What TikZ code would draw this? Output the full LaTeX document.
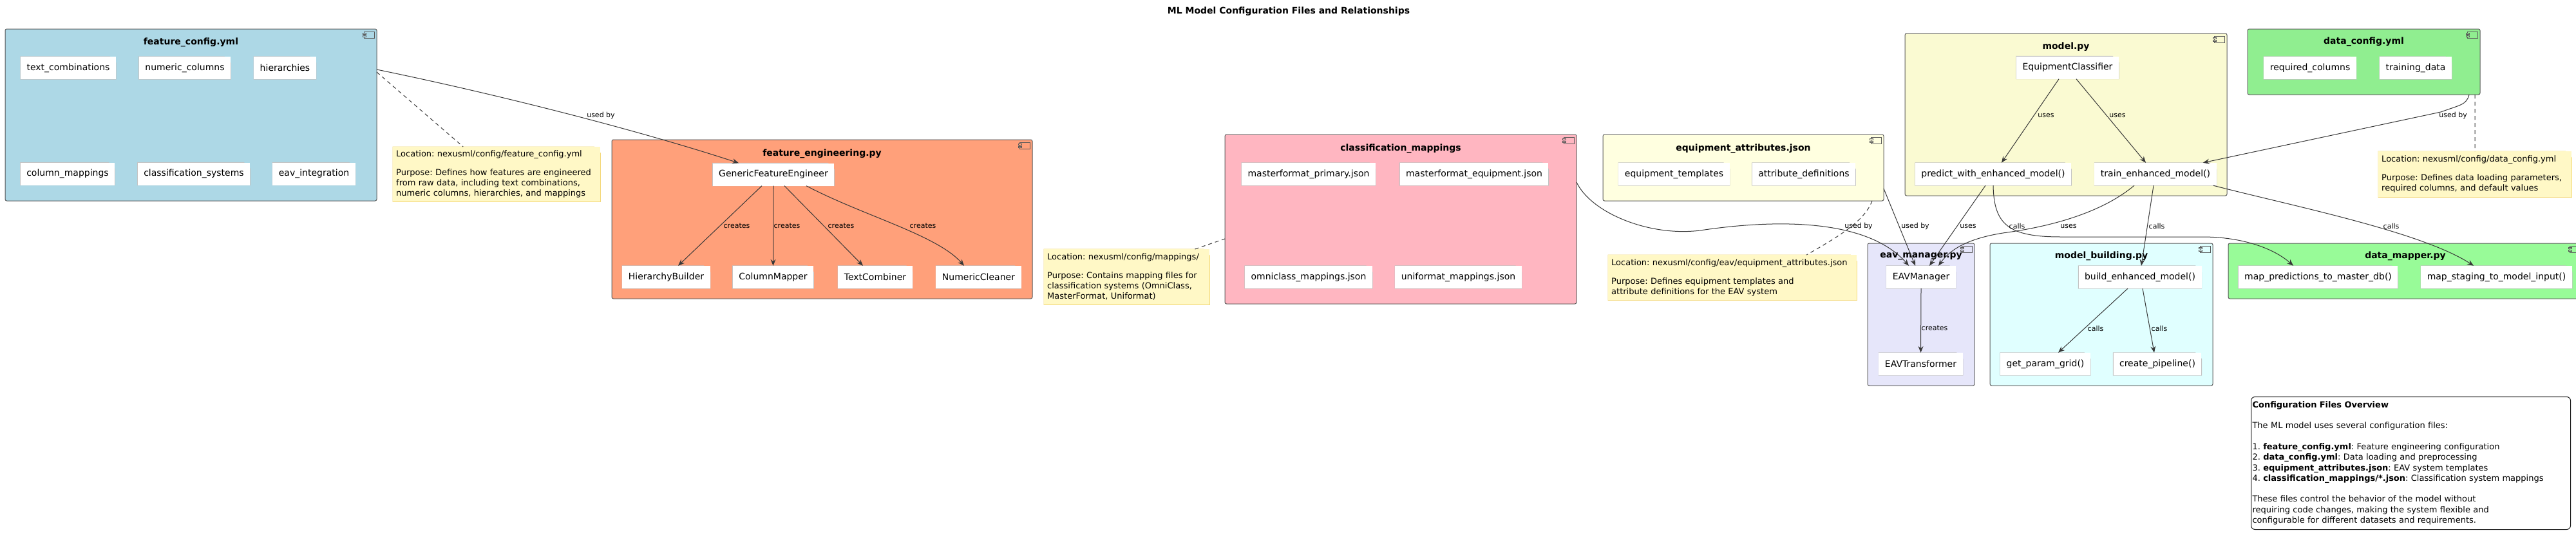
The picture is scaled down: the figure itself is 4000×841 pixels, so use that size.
\documentclass[tikz,border=0pt]{standalone}
\usepackage{fontspec}
\setmainfont{DejaVu Sans}
\usetikzlibrary{calc,arrows.meta}
\frenchspacing

\definecolor{fcblue}{HTML}{ADD8E6}
\definecolor{fesalmon}{HTML}{FFA07A}
\definecolor{cmpink}{HTML}{FFB6C1}
\definecolor{eayellow}{HTML}{FFFFE0}
\definecolor{mpgold}{HTML}{FAFAD2}
\definecolor{dcgreen}{HTML}{90EE90}
\definecolor{emlav}{HTML}{E6E6FA}
\definecolor{mbcyan}{HTML}{E0FFFF}
\definecolor{dmgreen}{HTML}{98FB98}
\definecolor{noteyel}{HTML}{FFF8C6}
\definecolor{noteline}{HTML}{F3D87A}
\definecolor{pkgline}{HTML}{5A5A5A}
\definecolor{cardline}{HTML}{C4C4C4}
\definecolor{arrowc}{HTML}{383838}

\newcommand{\compicon}[2]{%
  \draw[pkgline, line width=0.8pt, fill=#2] ($(#1.north east)+(-20,4)$) rectangle ($(#1.north east)+(-4,14)$);
  \draw[pkgline, line width=0.8pt, fill=#2] ($(#1.north east)+(-22,6)$) rectangle ($(#1.north east)+(-17,8.5)$);
  \draw[pkgline, line width=0.8pt, fill=#2] ($(#1.north east)+(-22,10)$) rectangle ($(#1.north east)+(-17,12.5)$);
}

\tikzset{
  dogear/.style 2 args={append after command={\pgfextra{%
    \edef\dgn{\tikzlastnode}%
    \fill[#1] ([xshift=-10pt]\dgn.north east) -- (\dgn.north east) -- ([yshift=-10pt]\dgn.north east) -- cycle;
    \draw[#2, line width=1pt] (\dgn.north west) -- ([xshift=-10pt]\dgn.north east) -- ([yshift=-10pt]\dgn.north east) -- (\dgn.south east) -- (\dgn.south west) -- cycle;
    \draw[#2, line width=1pt] ([xshift=-10pt]\dgn.north east) -- ([xshift=-10pt,yshift=-10pt]\dgn.north east) -- ([yshift=-10pt]\dgn.north east);
  }}},
  pkg/.style={draw=pkgline, line width=1pt, rounded corners=2.5pt, inner sep=0pt, outer sep=0pt},
  pkgtitle/.style={font=\fontsize{14}{16}\selectfont\bfseries, inner sep=0pt},
  filebox/.style={fill=white, inner xsep=9.5pt, inner ysep=0pt, minimum height=35pt, font=\fontsize{14}{16}\selectfont, dogear={#1}{cardline}},
  notebox/.style={fill=noteyel, anchor=north west, align=left, inner xsep=5pt, inner ysep=0pt, font=\fontsize{13}{16}\selectfont, dogear={white}{noteline}},
  conn/.style={draw=arrowc, line width=1pt, -{Stealth[length=10pt,width=8pt,inset=3.5pt]}},
  notelink/.style={draw=arrowc, line width=1pt, dash pattern=on 6pt off 5pt},
  lbl/.style={font=\fontsize{11}{13}\selectfont, inner sep=0pt}
}

\begin{document}
\begin{tikzpicture}[x=1pt, y=-1pt]
		%%%%% START %%%%%
		
		\useasboundingbox (0,0) rectangle (4000,841);
		\fill[white] (0,0) rectangle (4000,841);
		
		\node[font=\fontsize{14}{16}\selectfont\bfseries] (title) at (2001,18) {ML Model Configuration Files and Relationships};
		
		\node[pkg, fill=fcblue, minimum width=577pt, minimum height=267pt] (fc) at (296.5,178.5) {};
		\node[pkgtitle] (fct) at ([yshift=-21pt]fc.north) {feature\_config.yml};
		\compicon{fc}{fcblue}
		
		\node[pkg, fill=fesalmon, minimum width=653pt, minimum height=247pt] (fe) at (1276.5,340.5) {};
		\node[pkgtitle] (fet) at ([yshift=-22pt]fe.north) {feature\_engineering.py};
		\compicon{fe}{fesalmon}
		
		\node[pkg, fill=cmpink, minimum width=546pt, minimum height=263pt] (cm) at (2175,340.5) {};
		\node[pkgtitle] (cmt) at ([yshift=-22pt]cm.north) {classification\_mappings};
		\compicon{cm}{cmpink}
		
		\node[pkg, fill=eayellow, minimum width=436pt, minimum height=103pt] (ea) at (2707,260.5) {};
		\node[pkgtitle] (eat) at ([yshift=-22pt]ea.north) {equipment\_attributes.json};
		\compicon{ea}{eayellow}
		
		\node[pkg, fill=mpgold, minimum width=500pt, minimum height=252pt] (mp) at (3208,178) {};
		\node[pkgtitle] (mpt) at ([yshift=-21pt]mp.north) {model.py};
		\compicon{mp}{mpgold}
		
		\node[pkg, fill=dcgreen, minimum width=361pt, minimum height=102pt] (dc) at (3670.5,96) {};
		\node[pkgtitle] (dct) at ([yshift=-20pt]dc.north) {data\_config.yml};
		\compicon{dc}{dcgreen}
		
		\node[pkg, fill=emlav, minimum width=166pt, minimum height=221pt] (em) at (2983,488.5) {};
		\node[pkgtitle] (emt) at ([yshift=-20pt]em.north) {eav\_manager.py};
		\compicon{em}{emlav}
		
		\node[pkg, fill=mbcyan, minimum width=346pt, minimum height=221pt] (mb) at (3263,488.5) {};
		\node[pkgtitle] (mbt) at ([yshift=-20pt]mb.north) {model\_building.py};
		\compicon{mb}{mbcyan}
		
		\node[pkg, fill=dmgreen, minimum width=550pt, minimum height=86pt] (dm) at (3735,421) {};
		\node[pkgtitle] (dmt) at ([yshift=-20pt]dm.north) {data\_mapper.py};
		\compicon{dm}{dmgreen}
		
		\node[filebox=fcblue] (txtcomb) at (106,105.5) {text\_combinations};
		\node[filebox=fcblue] (numcols) at (287,105.5) {numeric\_columns};
		\node[filebox=fcblue] (hier) at (442.5,105.5) {hierarchies};
		\node[filebox=fcblue] (colmaps) at (105,270) {column\_mappings};
		\node[filebox=fcblue] (clsys) at (301,270) {classification\_systems};
		\node[filebox=fcblue] (eavint) at (487.5,270) {eav\_integration};
		
		\node[filebox=fesalmon] (gfe) at (1201,271) {GenericFeatureEngineer};
		\node[filebox=fesalmon] (hb) at (1034.5,430.5) {HierarchyBuilder};
		\node[filebox=fesalmon] (colmap) at (1200.5,430.5) {ColumnMapper};
		\node[filebox=fesalmon] (textcomb) at (1359,430.5) {TextCombiner};
		\node[filebox=fesalmon] (numcl) at (1519.5,430.5) {NumericCleaner};
		
		\node[filebox=cmpink] (mfp) at (2032,270.5) {masterformat\_primary.json};
		\node[filebox=cmpink] (mfe) at (2289,270.5) {masterformat\_equipment.json};
		\node[filebox=cmpink] (ocm) at (2032,430.5) {omniclass\_mappings.json};
		\node[filebox=cmpink] (ufm) at (2264.5,430.5) {uniformat\_mappings.json};
		
		\node[filebox=eayellow] (etpl) at (2599.5,270.5) {equipment\_templates};
		\node[filebox=eayellow] (adef) at (2801,270.5) {attribute\_definitions};
		
		\node[filebox=mpgold] (ec) at (3210.5,105) {EquipmentClassifier};
		\node[filebox=mpgold] (pwem) at (3095,270.5) {predict\_with\_enhanced\_model()};
		\node[filebox=mpgold] (tem) at (3347,270.5) {train\_enhanced\_model()};
		
		\node[filebox=dcgreen] (rcols) at (3587,105.5) {required\_columns};
		\node[filebox=dcgreen] (tdata) at (3751,105.5) {training\_data};
		
		\node[filebox=emlav] (eavm) at (2983,430.5) {EAVManager};
		\node[filebox=emlav] (eavt) at (2982.5,565.5) {EAVTransformer};
		
		\node[filebox=mbcyan] (bem) at (3323,430.5) {build\_enhanced\_model()};
		\node[filebox=mbcyan] (gpg) at (3176,565.5) {get\_param\_grid()};
		\node[filebox=mbcyan] (cpl) at (3350,565.5) {create\_pipeline()};
		
		\node[filebox=dmgreen] (mpdb) at (3599.5,430.5) {map\_predictions\_to\_master\_db()};
		\node[filebox=dmgreen] (mstm) at (3876.5,430.5) {map\_staging\_to\_model\_input()};
		
		\node[notebox, text width=312pt, minimum height=85pt] (n1) at (610,228) {Location: nexusml/config/feature\_config.yml\\[13pt]Purpose: Defines how features are engineered\\from raw data, including text combinations,\\numeric columns, hierarchies, and mappings};
		\node[notebox, text width=247pt, minimum height=86pt] (n2) at (1621,387) {Location: nexusml/config/mappings/\\[13pt]Purpose: Contains mapping files for\\classification systems (OmniClass,\\MasterFormat, Uniformat)};
		\node[notebox, text width=376pt, minimum height=70pt] (n3) at (2497,396) {Location: nexusml/config/eav/equipment\_attributes.json\\[13pt]Purpose: Defines equipment templates and\\attribute definitions for the EAV system};
		\node[notebox, text width=290pt, minimum height=71pt] (n4) at (3693,235) {Location: nexusml/config/data\_config.yml\\[13pt]Purpose: Defines data loading parameters,\\required columns, and default values};
		
		\node[draw=black!90, line width=1pt, fill=white, rounded corners=6pt, anchor=north west, align=left, text width=492pt, inner xsep=2pt, inner ysep=0pt, minimum height=206pt, font=\fontsize{13}{16.4}\selectfont] (overview) at (3495,616) {\textbf{Configuration Files Overview}\\[16pt]The ML model uses several configuration files:\\[16pt]1. \textbf{feature\_config.yml}: Feature engineering configuration\\2. \textbf{data\_config.yml}: Data loading and preprocessing\\3. \textbf{equipment\_attributes.json}: EAV system templates\\4. \textbf{classification\_mappings/*.json}: Classification system mappings\\[16pt]These files control the behavior of the model without\\requiring code changes, making the system flexible and\\configurable for different datasets and requirements.};
		
		\draw[notelink] ([yshift=66.5pt]fc.east) -- ([xshift=-52pt]n1.north);
		\draw[notelink] ([xshift=-23pt]n2.north east) -- ([yshift=-30.5pt]cm.west);
		\draw[notelink] ([xshift=-18pt]ea.south east) .. controls (2895,345) and (2850,370) .. ([xshift=115pt]n3.north);
		\draw[notelink] ([xshift=-8pt]dc.south east) -- (n4.north);
		
		\draw[conn] ([yshift=70.5pt]fc.east) .. controls (780,148) and (1000,205) .. ([xshift=-54pt]gfe.north);
		\draw[conn] ([xshift=-18pt]gfe.south) -- ([xshift=18.5pt]hb.north);
		\draw[conn] (gfe.south) -- (colmap.north);
		\draw[conn] ([xshift=17pt]gfe.south) -- ([xshift=-19pt]textcomb.north);
		\draw[conn] ([xshift=51pt]gfe.south) .. controls (1340,335) and (1455,365) .. ([xshift=-22.5pt]numcl.north);
		
		\draw[conn] ([yshift=57.5pt]cm.east) .. controls (2470,330) and (2560,368) .. (2640,358) .. controls (2760,340) and (2900,340) .. ([xshift=-19pt]eavm.north);
		\draw[conn] ([yshift=-32.5pt]ea.east) -- ([xshift=-9pt]eavm.north);
		\draw[conn] ([xshift=-12pt]pwem.south) -- ([xshift=13pt]eavm.north);
		\draw[conn] (pwem.south) .. controls (3096,350) and (3120,368) .. (3200,368) -- (3420,368) .. controls (3480,368) and (3530,385) .. ([xshift=-38.5pt]mpdb.north);
		\draw[conn] ([xshift=-33pt]tem.south) .. controls (3270,325) and (3200,350) .. (3110,362) .. controls (3060,370) and (3030,385) .. ([xshift=27pt]eavm.north);
		\draw[conn] ([xshift=-3pt]tem.south) -- ([xshift=2pt]bem.north);
		\draw[conn] ([xshift=-5pt]tem.south east) .. controls (3560,320) and (3760,360) .. ([xshift=-35.5pt]mstm.north);
		
		\draw[conn] ([xshift=-13.5pt]ec.south) -- ([xshift=13pt]pwem.north);
		\draw[conn] ([xshift=13.5pt]ec.south) -- ([xshift=-15pt]tem.north);
		\draw[conn] ([xshift=-17pt]dc.south east) .. controls (3830,163) and (3820,163) .. (3790,174) -- ([xshift=-21pt]tem.north east);
		
		\draw[conn] (eavm.south) -- (eavt.north);
		\draw[conn] ([xshift=-19pt]bem.south) -- ([xshift=20pt]gpg.north);
		\draw[conn] ([xshift=4pt]bem.south) -- ([xshift=-5pt]cpl.north);
		
		\node[lbl] (l1) at (933,179) {used by};
		\node[lbl] (l2) at (1144,351) {creates};
		\node[lbl] (l3) at (1222,351) {creates};
		\node[lbl] (l4) at (1306,351) {creates};
		\node[lbl] (l5) at (1433,351) {creates};
		\node[lbl] (l6) at (2886,351) {used by};
		\node[lbl] (l7) at (2974,351) {used by};
		\node[lbl] (l8) at (3056,351) {uses};
		\node[lbl] (l9) at (3132,351) {calls};
		\node[lbl] (l10) at (3212,351) {uses};
		\node[lbl] (l11) at (3349,351) {calls};
		\node[lbl] (l12) at (3713,351) {calls};
		\node[lbl] (l13) at (3177,179) {uses};
		\node[lbl] (l14) at (3288,179) {uses};
		\node[lbl] (l15) at (3809,179) {used by};
		\node[lbl] (l16) at (3004,510) {creates};
		\node[lbl] (l17) at (3254,510) {calls};
		\node[lbl] (l18) at (3353,510) {calls};
		
		%%%%% END %%%%%
\end{tikzpicture}
\end{document}
